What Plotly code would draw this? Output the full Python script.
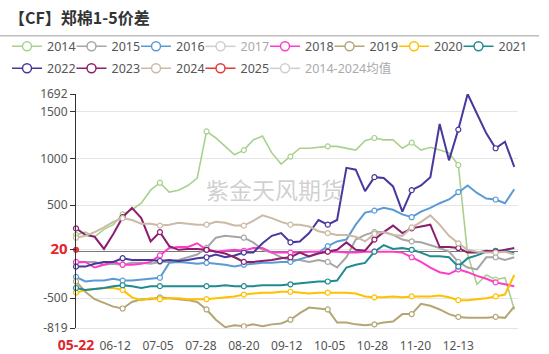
import plotly.graph_objects as go
import pandas as pd

# ---- data (5-day sampling from 05-22) ----
start = pd.Timestamp("2000-05-22")
dates = list(pd.date_range(start, periods=48, freq="5D"))

y2014 = [180, 210, 160, 240, 290, 400, 450, 520, 660, 740, 640, 660, 710, 790, 1290, 1220,
         1130, 1040, 1090, 1200, 1240, 1060, 940, 1020, 1110, 1110, 1120, 1130, 1130, 1110,
         1090, 1190, 1220, 1200, 1200, 1110, 1170, 1090, 1120, 1090, 1060, 930, -30, -350,
         -250, -300, -280, -620]
y2015 = [-120, -110, -110, -140, -130, -140, -120, -120, -130, -110, -110, -90, -60, -30, 40,
         150, 170, 160, 150, 100, 20, -10, -60, -90, -90, -110, -90, -110, -170, -60, 130,
         180, 210, 210, 180, 130, 110, 100, 70, 40, 0, -110, -170, -190, -60, -60, -90, -60]
y2016 = [-270, -320, -310, -310, -290, -310, -310, -300, -290, -280, -120, -110, -120, -130,
         -120, -130, -140, -160, -140, -130, -120, -120, -110, -110, -80, -50, -10, 60, 110,
         130, 290, 420, 440, 470, 450, 400, 370, 430, 470, 520, 560, 640, 710, 630, 570, 560,
         520, 670]
y2018 = [-110, -110, -170, -140, -110, -140, -140, -130, -110, -40, 40, 50, 50, 90, 20, 0, 10,
         20, 10, 40, 40, -10, -10, -10, -10, 0, 0, 0, 0, -10, -10, 0, 0, 0, 0, -10, -60, -110,
         -170, -220, -240, -190, -220, -260, -290, -330, -350, -370]
y2019 = [-320, -430, -510, -550, -590, -610, -540, -510, -510, -490, -500, -510, -520, -540,
         -620, -730, -810, -790, -800, -780, -800, -780, -770, -730, -660, -600, -610, -620,
         -760, -760, -780, -790, -780, -760, -750, -670, -670, -560, -580, -620, -670, -700,
         -710, -710, -710, -700, -710, -590]
y2020 = [-440, -410, -400, -390, -390, -410, -490, -520, -500, -510, -500, -500, -510, -510,
         -510, -500, -490, -480, -460, -450, -440, -440, -430, -430, -440, -450, -440, -440,
         -440, -440, -450, -480, -490, -490, -480, -490, -480, -480, -480, -470, -490, -520,
         -520, -510, -500, -480, -460, -250]
y2021 = [-390, -410, -400, -390, -370, -360, -370, -390, -370, -370, -370, -370, -370, -370,
         -370, -370, -360, -370, -370, -370, -360, -360, -360, -350, -340, -330, -320, -320,
         -310, -170, -140, -120, 0, 70, 30, 40, 20, -10, -50, -50, -60, -160, -70, -40, 0, 10,
         10, -10]
y2022 = [-160, -160, -130, -110, -110, -70, -90, -90, -90, -100, -90, -100, -90, -70, -60, -30,
         -60, -40, -10, -10, 90, 170, 200, 100, 110, 200, 340, 290, 340, 900, 880, 650, 800,
         790, 700, 430, 660, 710, 800, 1370, 980, 1310, 1692, 1480, 1270, 1110, 1180, 910]
y2023 = [250, 180, 160, 30, 190, 370, 470, 360, 110, 210, 60, 20, 30, 30, 20, 0, -20, -60,
         -110, -110, -100, -90, -70, -60, -10, -50, -20, 0, 20, 100, 20, 10, 130, 210, 280, 200,
         250, 270, 290, 50, 50, 40, -10, -10, 10, 0, 20, 40]
y2024 = [150, 170, 210, 260, 320, 360, 340, 300, 300, 280, 290, 310, 300, 290, 290, 320, 310,
         280, 280, 330, 390, 360, 320, 290, 290, 270, 220, 200, 180, 180, 160, 110, 190, 210,
         180, 170, 260, 320, 390, 290, 170, 90, 20, 0, -10, -10, 0, -30]
y2025 = [20]

tick_dates = ["05-22", "06-12", "07-05", "07-28", "08-20", "09-12", "10-05", "10-28", "11-20", "12-13"]
y_ticks = [-819, -500, 20, 500, 1000, 1500, 1692]

# ---- styles ----
marker_idx = [0, 5, 9, 14, 18, 23, 27, 32, 36, 41, 45]
FONT = "Noto Sans, Noto Sans CJK SC, sans-serif"

series = [
    ("2014", y2014, "#a9d18e", 1.6),
    ("2015", y2015, "#a6a6a6", 2.0),
    ("2016", y2016, "#5b9bd5", 2.0),
    ("2017", None, "#a0a0a0", 2.0),
    ("2018", y2018, "#ff3cc7", 2.0),
    ("2019", y2019, "#b4a674", 2.0),
    ("2020", y2020, "#ffc000", 2.0),
    ("2021", y2021, "#1e8b91", 2.0),
    ("2022", y2022, "#46389c", 2.0),
    ("2023", y2023, "#8b1f6e", 2.0),
    ("2024", y2024, "#cbbaa5", 2.0),
    ("2025", y2025, "#e8373a", 2.0),
    ("2014-2024均值", None, "#a0a0a0", 2.0),
]

# plot geometry (pixels)
L, R, T, B = 76, 518, 94.3, 328.3
H = B - T
W = R - L

def py(p):
    return (B - p) / H

def px(p):
    return (p - L) / W

fig = go.Figure()
legends = {}
for k, (name, vals, color, lw) in enumerate(series):
    lg = "legend" if k == 0 else "legend%d" % (k + 1)
    row, col = (0, k) if k < 8 else (1, k - 8)
    cx = 28 + col * 64.5
    top = 32 + row * 22
    legends[lg] = dict(orientation="h", x=px(cx - 21), y=py(top), xanchor="left",
                       yanchor="top", itemwidth=30,
                       font=dict(size=12.5, color="#555555", family=FONT),
                       bgcolor="rgba(0,0,0,0)", itemclick=False, itemdoubleclick=False)
    # legend entry
    fig.add_trace(go.Scatter(
        x=[None], y=[None], mode="lines+markers", name=name, legendgroup=name, legend=lg,
        line=dict(color=color, width=1.5),
        marker=dict(symbol="circle", size=9, color="white", line=dict(color=color, width=1.5)),
        visible=True if vals is not None else "legendonly", hoverinfo="skip"))
    if vals is None:
        continue
    xs = dates[:len(vals)]
    fig.add_trace(go.Scatter(
        x=xs, y=vals, mode="lines", legendgroup=name, showlegend=False,
        line=dict(color=color, width=lw), cliponaxis=True))
    mi = [i for i in marker_idx if i < len(vals)]
    fig.add_trace(go.Scatter(
        x=[xs[i] for i in mi], y=[vals[i] for i in mi], mode="markers", legendgroup=name,
        showlegend=False, cliponaxis=False,
        marker=dict(symbol="circle", size=5,
                    color="white" if name != "2025" else color,
                    line=dict(color=color, width=1.2))))

ticktext_x = []
for i, t in enumerate(tick_dates):
    if i == 0:
        ticktext_x.append("<span style='color:#e0262b;font-size:14px'><b>%s</b></span>" % t)
    else:
        ticktext_x.append(t)
ticktext_y = []
for v in y_ticks:
    if v == 20:
        ticktext_y.append("<span style='color:#e0262b;font-size:15px'><b>20</b></span>")
    else:
        ticktext_y.append(str(v))

fig.update_layout(
    width=549, height=354,
    margin=dict(l=L, r=549 - R, t=T, b=354 - B, pad=0, autoexpand=False),
    paper_bgcolor="white", plot_bgcolor="white",
    font=dict(family=FONT, size=12, color="#555555"),
    title=dict(text="<b>【CF】郑棉1-5价差</b>", x=9 / 549, xanchor="left",
               y=1 - 18 / 354, yanchor="middle",
               font=dict(family="Noto Sans CJK SC", size=16, color="#333333")),
    showlegend=True,
    xaxis=dict(
        type="date", range=[pd.Timestamp("2000-05-22"), pd.Timestamp("2001-01-14")],
        tickvals=[pd.Timestamp("2000-" + t) for t in tick_dates], ticktext=ticktext_x,
        showgrid=False, zeroline=False, showline=True, linecolor="#e3e3e3", linewidth=1,
        automargin=False,
        ticks="", ticklabelstandoff=7, tickfont=dict(size=12, color="#555555")),
    yaxis=dict(
        range=[-819, 1692], tickvals=y_ticks, ticktext=ticktext_y,
        showgrid=True, gridcolor="#e6e6e6", gridwidth=1, automargin=False,
        zeroline=True, zerolinecolor="#777777", zerolinewidth=1.2,
        showline=True, linecolor="#333333", linewidth=1,
        ticks="outside", ticklen=5, tickcolor="#333333",
        tickfont=dict(size=12, color="#555555")),
    shapes=[dict(type="line", xref="paper", yref="paper", x0=px(0), x1=px(539),
                 y0=py(36), y1=py(36), line=dict(color="#bdbdbd", width=1.5))],
    annotations=[dict(text="紫金天风期货", xref="paper", yref="paper", x=px(275), y=py(170),
                      showarrow=False, font=dict(family="Noto Sans CJK SC", size=23,
                                                 color="rgba(150,150,150,0.45)"))],
    **legends,
)

fig.write_html("out.html")
